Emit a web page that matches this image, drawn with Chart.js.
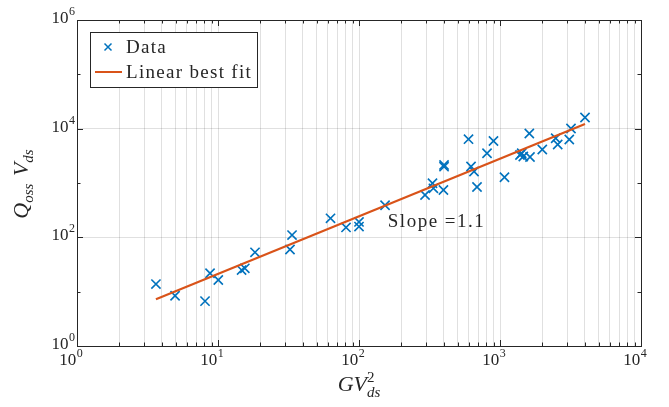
<!DOCTYPE html>
<html><head><meta charset="utf-8">
<script src="https://cdn.jsdelivr.net/npm/chart.js@4.4.0/dist/chart.umd.min.js"></script>
<style>html,body{margin:0;padding:0;background:#fff;overflow:hidden}</style>
</head><body>
<canvas id="c" width="669" height="407"></canvas>
<script>
// ---- data ----
const dataX = [3.63, 4.96, 8.09, 8.78, 10.05, 14.7, 15.5, 18.3, 32.4, 33.5,
  62.8, 80.9, 100, 100, 153, 294, 332, 337, 401, 401, 397, 598, 623, 654, 687,
  809, 899, 1076, 1386, 1425, 1463, 1632, 1614, 1995, 2483, 2566, 3100, 3187, 4007];
const dataY = [13.8, 8.4, 6.7, 21.8, 16.4, 25.0, 26.9, 53.0, 59.7, 110,
  224, 152, 192, 158, 389, 601, 988, 799, 2146, 1996, 743, 6400, 2013, 1628, 844,
  3523, 5932, 1274, 3279, 3523, 3076, 3011, 8150, 4139, 6653, 5114, 6321, 10080, 16060];
const fitX = [3.63, 4007];
const fitY = [7.24, 12190];
const xTickExps = [0, 1, 2, 3, 4];
const yTickExps = [0, 2, 4, 6];
const seriesLabels = ['Data', 'Linear best fit'];
const slopeLabel = 'Slope =1.1';
const slopeAnchor = [160, 191];

// ---- styles ----
const SERIF = "'Liberation Serif','DejaVu Serif',serif";
const BLUE = '#0072BD', ORANGE = '#D95319', AX = '#262626';

const xGridVals = [];
for (let k = xTickExps[0]; k < xTickExps[xTickExps.length - 1]; k++)
  for (let m = 1; m <= 9; m++) xGridVals.push(m * Math.pow(10, k));
xGridVals.push(Math.pow(10, xTickExps[xTickExps.length - 1]));
const yGridVals = yTickExps.map(e => Math.pow(10, e));
const yMinorVals = [];
for (let i = 0; i < yTickExps.length - 1; i++)
  for (let e = yTickExps[i] + 1; e < yTickExps[i + 1]; e++) yMinorVals.push(Math.pow(10, e));

function drawPow(ctx, exp, x, yc, mode) {
  const f1 = '17px ' + SERIF, f2 = '12px ' + SERIF;
  ctx.font = f1; const w1 = ctx.measureText('10').width;
  ctx.font = f2; const w2 = ctx.measureText(String(exp)).width;
  const W = w1 + w2 + 0.5;
  const x0 = mode === 'right' ? x - W : x - W / 2;
  ctx.textAlign = 'left'; ctx.textBaseline = 'alphabetic';
  ctx.fillStyle = AX;
  ctx.font = f1; ctx.fillText('10', x0, yc + 6);
  ctx.font = f2; ctx.fillText(String(exp), x0 + w1 + 0.5, yc - 2);
}

// parts: [text, italic, size, dy, stackWithPrev]
function drawMath(ctx, parts, cx, by) {
  let widths = [], total = 0, prevW = 0;
  parts.forEach((p, i) => {
    ctx.font = (p[1] ? 'italic ' : '') + p[2] + 'px ' + SERIF;
    const w = ctx.measureText(p[0]).width;
    widths.push(w);
    if (p[4]) { total += Math.max(0, w - prevW); } else { total += w; }
    prevW = w;
  });
  let x = cx - total / 2, lastX = x;
  ctx.textAlign = 'left'; ctx.textBaseline = 'alphabetic'; ctx.fillStyle = AX;
  parts.forEach((p, i) => {
    ctx.font = (p[1] ? 'italic ' : '') + p[2] + 'px ' + SERIF;
    if (p[4]) {
      ctx.fillText(p[0], lastX, by + p[3]);
      x = Math.max(x, lastX + widths[i]);
    } else {
      ctx.fillText(p[0], x, by + p[3]);
      lastX = x; x += widths[i];
    }
  });
}

const decor = {
  id: 'decor',
  afterDatasetsDraw(chart) {
    const ctx = chart.ctx, a = chart.chartArea;
    const xs = chart.scales.x, ys = chart.scales.y;
    ctx.save();
    // box
    ctx.strokeStyle = AX; ctx.lineWidth = 1;
    ctx.strokeRect(Math.round(a.left) + 0.5, Math.round(a.top) + 0.5,
      Math.round(a.right - a.left), Math.round(a.bottom - a.top));
    // ticks (inward)
    ctx.beginPath();
    xGridVals.forEach(v => {
      const px = Math.round(xs.getPixelForValue(v)) + 0.5;
      const major = Math.abs(Math.log10(v) - Math.round(Math.log10(v))) < 1e-9;
      const L = major ? 6 : 3.5;
      ctx.moveTo(px, a.bottom); ctx.lineTo(px, a.bottom - L);
      ctx.moveTo(px, a.top); ctx.lineTo(px, a.top + L);
    });
    yGridVals.forEach(v => {
      const py = Math.round(ys.getPixelForValue(v)) + 0.5;
      ctx.moveTo(a.left, py); ctx.lineTo(a.left + 6, py);
      ctx.moveTo(a.right, py); ctx.lineTo(a.right - 6, py);
    });
    yMinorVals.forEach(v => {
      const py = Math.round(ys.getPixelForValue(v)) + 0.5;
      ctx.moveTo(a.left, py); ctx.lineTo(a.left + 3.5, py);
      ctx.moveTo(a.right, py); ctx.lineTo(a.right - 3.5, py);
    });
    ctx.stroke();
    // tick labels
    xTickExps.forEach(e => {
      const px = xs.getPixelForValue(Math.pow(10, e));
      drawPow(ctx, e, px - 6, a.bottom + 13, 'center');
    });
    yTickExps.forEach(e => {
      const py = ys.getPixelForValue(Math.pow(10, e));
      drawPow(ctx, e, a.left - 2, py - 3, 'right');
    });
    // axis titles
    drawMath(ctx, [['G', true, 22, 0], ['V', true, 22, 0], ['2', false, 15, -9], ['ds', true, 15, 6, true]],
      (a.left + a.right) / 2, 391);
    ctx.save();
    ctx.translate(28, (a.top + a.bottom) / 2 + 1);
    ctx.rotate(-Math.PI / 2);
    drawMath(ctx, [['Q', true, 22, 0], ['oss', true, 15, 5], ['  ', false, 15, 0], ['V', true, 22, 0], ['ds', true, 15, 5]], 0, 0);
    ctx.restore();
    // slope annotation
    ctx.font = '19px ' + SERIF; ctx.fillStyle = AX;
    ctx.letterSpacing = '1.5px';
    ctx.textAlign = 'left'; ctx.textBaseline = 'middle';
    ctx.fillText(slopeLabel, xs.getPixelForValue(slopeAnchor[0]), ys.getPixelForValue(slopeAnchor[1]));
    // legend
    const lx = 90, ly = 32, lw = 167, lh = 55;
    ctx.fillStyle = '#fff'; ctx.fillRect(lx, ly, lw, lh);
    ctx.strokeStyle = AX; ctx.lineWidth = 1;
    ctx.strokeRect(lx + 0.5, ly + 0.5, lw, lh);
    ctx.strokeStyle = BLUE; ctx.lineWidth = 1.5;
    ctx.beginPath();
    ctx.moveTo(104.5, 43.5); ctx.lineTo(111.5, 50.5);
    ctx.moveTo(111.5, 43.5); ctx.lineTo(104.5, 50.5);
    ctx.stroke();
    ctx.strokeStyle = ORANGE; ctx.lineWidth = 2;
    ctx.beginPath(); ctx.moveTo(95, 72); ctx.lineTo(122, 72); ctx.stroke();
    ctx.fillStyle = AX; ctx.font = '19px ' + SERIF; ctx.letterSpacing = '1.3px';
    ctx.textBaseline = 'alphabetic';
    ctx.fillText(seriesLabels[0], 126, 53);
    ctx.fillText(seriesLabels[1], 126, 78);
    ctx.letterSpacing = '0px';
    ctx.restore();
  }
};

const gridColor = (vals) => (c) => {
  const v = c.tick && c.tick.value;
  if (v === vals[0] || v === vals[vals.length - 1]) return 'rgba(0,0,0,0)';
  return 'rgba(0,0,0,0.12)';
};

new Chart(document.getElementById('c'), {
  type: 'scatter',
  data: {
    datasets: [
      {
        label: seriesLabels[0],
        data: dataX.map((x, i) => ({ x, y: dataY[i] })),
        pointStyle: 'crossRot', pointRadius: 6.5, pointHoverRadius: 6.5,
        borderColor: BLUE, backgroundColor: BLUE, pointBorderWidth: 1.6, borderWidth: 1.6,
        showLine: false, order: 2
      },
      {
        label: seriesLabels[1],
        data: fitX.map((x, i) => ({ x, y: fitY[i] })),
        showLine: true, borderColor: ORANGE, borderWidth: 2.2, pointRadius: 0,
        fill: false, order: 1
      }
    ]
  },
  options: {
    responsive: false, animation: false, devicePixelRatio: 1,
    layout: { padding: { left: 77, top: 20, right: 28, bottom: 61 } },
    plugins: { legend: { display: false }, tooltip: { enabled: false } },
    scales: {
      x: {
        type: 'logarithmic', min: 1, max: 10000,
        afterBuildTicks: s => { s.ticks = xGridVals.map(v => ({ value: v })); },
        ticks: { display: false },
        grid: { drawTicks: false, color: gridColor(xGridVals), lineWidth: 1 },
        border: { display: false }
      },
      y: {
        type: 'logarithmic', min: 1, max: 1e6,
        afterBuildTicks: s => { s.ticks = yGridVals.map(v => ({ value: v })); },
        ticks: { display: false },
        grid: { drawTicks: false, color: gridColor(yGridVals), lineWidth: 1 },
        border: { display: false }
      }
    }
  },
  plugins: [decor]
});
</script>
</body></html>
